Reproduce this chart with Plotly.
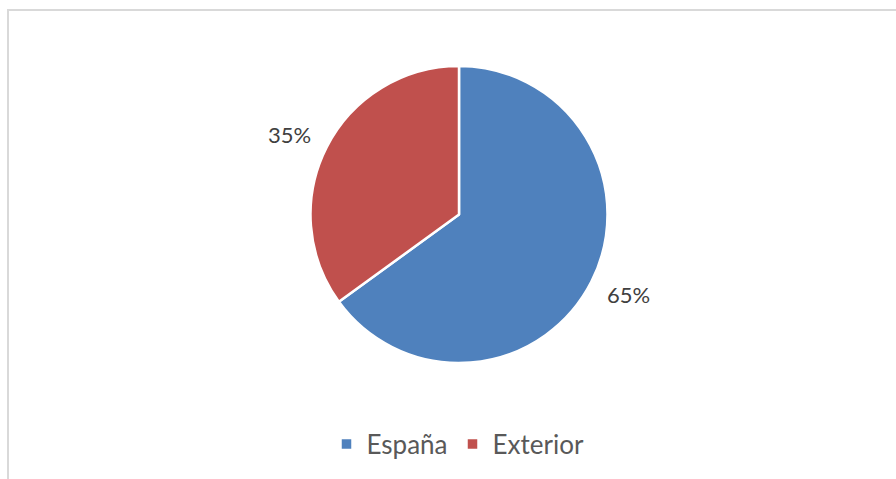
import math
import plotly.graph_objects as go

labels = ["España", "Exterior"]
values = [65, 35]
colors = ["#4F81BD", "#C0504D"]

W, H = 896, 479
cx, cy, r = 459, 214.5, 148.5
label_rx, label_ry = 190, 177

fig = go.Figure(go.Pie(
    labels=labels, values=values, sort=False, direction="clockwise", rotation=0,
    marker=dict(colors=colors, line=dict(color="white", width=2.5)),
    textinfo="none", hoverinfo="label+percent",
    domain=dict(x=[(cx - r) / W, (cx + r) / W], y=[1 - (cy + r) / H, 1 - (cy - r) / H]),
))

total = sum(values)
cum = 0
annotations = []
for v in values:
    mid = (cum + v / 2) / total * 2 * math.pi
    cum += v
    px = cx + label_rx * math.sin(mid)
    py = cy - label_ry * math.cos(mid)
    annotations.append(dict(
        x=px / W, y=1 - py / H, xref="paper", yref="paper",
        text=f"{round(v / total * 100)}%", showarrow=False,
        font=dict(family="Lato, Open Sans, sans-serif", size=22, color="#404040"),
        xanchor="center", yanchor="middle",
    ))

fig.update_layout(
    width=W, height=H, margin=dict(l=0, r=0, t=0, b=0),
    paper_bgcolor="white", plot_bgcolor="white",
    showlegend=True,
    legend=dict(orientation="h", x=458 / W, xanchor="center", y=1 - 444 / H, yanchor="middle",
                font=dict(family="Lato, Open Sans, sans-serif", size=26, color="#595959"),
                itemwidth=30, traceorder="normal"),
    annotations=annotations,
    shapes=[
        dict(type="line", xref="paper", yref="paper", x0=8 / W, x1=8 / W, y0=0, y1=1 - 9 / H,
             line=dict(color="#d9d9d9", width=2)),
        dict(type="line", xref="paper", yref="paper", x0=7 / W, x1=1, y0=1 - 10 / H, y1=1 - 10 / H,
             line=dict(color="#d9d9d9", width=2)),
    ],
)

fig.write_html("out.html")
